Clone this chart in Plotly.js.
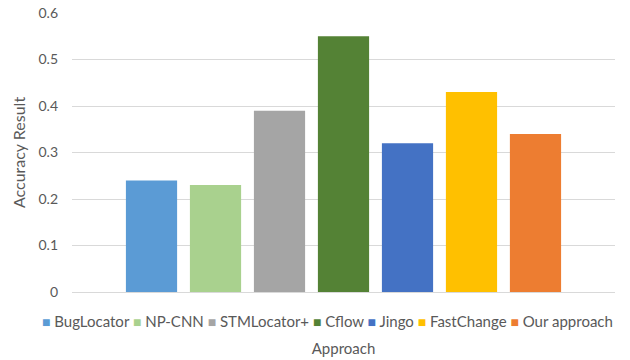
<!DOCTYPE html>
<html>
<head>
<meta charset="utf-8">
<script src="https://cdn.plot.ly/plotly-3.0.1.min.js"></script>
<style>html,body{margin:0;padding:0;background:#fff;}#chart{width:630px;height:360px;}</style>
</head>
<body>
<div id="chart"></div>
<script>
const approaches = ["BugLocator", "NP-CNN", "STMLocator+", "Cflow", "Jingo", "FastChange", "Our approach"];
const accuracy = [0.24, 0.23, 0.39, 0.55, 0.32, 0.43, 0.34];
const colors = ["#5B9BD5", "#A9D18E", "#A5A5A5", "#548235", "#4472C4", "#FFC000", "#ED7D31"];
const category = ["Approach"];
const yTicks = [0, 0.1, 0.2, 0.3, 0.4, 0.5, 0.6];
const yTickText = ["0", "0.1", "0.2", "0.3", "0.4", "0.5", "0.6"];

const traces = approaches.map((name, i) => ({
  type: "bar",
  name: name,
  x: category,
  y: [accuracy[i]],
  marker: { color: colors[i] },
  hoverinfo: "name+y",
  showlegend: false
}));

const fam = "Lato, 'Open Sans', sans-serif";
const grey = "#595959";

// one-line legend built from the series names and colours
const legendText = approaches.map((name, i) =>
  '<span style="color:' + colors[i] + ';font-size:14px">■</span> ' + name
).join(" ");

const layout = {
  width: 630,
  height: 360,
  margin: { l: 72, r: 15, t: 13, b: 68, autoexpand: false },
  paper_bgcolor: "#ffffff",
  plot_bgcolor: "#ffffff",
  font: { family: fam, size: 13, color: grey },
  barmode: "group",
  bargap: 0.175,
  bargroupgap: 0.2,
  showlegend: false,
  annotations: [{
    text: legendText,
    xref: "paper", yref: "paper",
    x: 0.47, xanchor: "center",
    y: -0.104, yanchor: "middle",
    showarrow: false,
    font: { family: fam, size: 15, color: grey }
  }],
  xaxis: {
    type: "category",
    showticklabels: false,
    showgrid: false,
    showline: true,
    linecolor: "#D9D9D9",
    linewidth: 1,
    zeroline: false,
    automargin: false,
    title: { text: "Approach", font: { size: 15, color: grey }, standoff: 51 }
  },
  yaxis: {
    range: [0, 0.6],
    tickvals: yTicks,
    ticktext: yTickText,
    showgrid: true,
    gridcolor: "#D9D9D9",
    gridwidth: 1,
    zeroline: false,
    showline: false,
    ticks: "",
    ticklabelstandoff: 13,
    automargin: false,
    tickfont: { size: 14, color: grey },
    title: { text: "Accuracy Result", font: { size: 16, color: grey }, standoff: 8 }
  }
};

Plotly.newPlot("chart", traces, layout, { displayModeBar: false, staticPlot: true });
</script>
</body>
</html>
